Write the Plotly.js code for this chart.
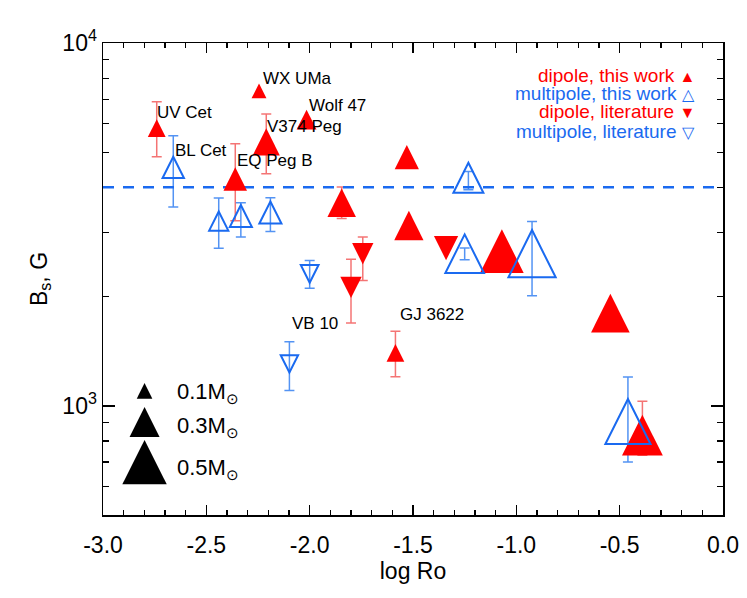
<!DOCTYPE html>
<html>
<head>
<meta charset="utf-8">
<script src="https://cdn.plot.ly/plotly-3.0.1.min.js"></script>
<style>
  html, body { margin: 0; padding: 0; background: #fff; }
  #chart { width: 747px; height: 598px; }
</style>
</head>
<body>
<div id="chart"></div>
<script>
// dipole, this work (filled red, pointing up)
const dipWorkRo = [-2.74, -2.245, -2.015, -2.21, -2.36, -1.53, -1.845, -1.52, -1.07, -1.585, -0.545, -0.39];
const dipWorkB = [5830, 7380, 6150, 5340, 4220, 4850, 3630, 3140, 2670, 1400, 1800, 830];
const dipWorkErrUp = [1055, null, null, 1035, 1055, null, 380, null, null, 205, null, 200];
const dipWorkErrDn = [975, null, null, 980, 985, null, 345, null, null, 197, null, 100];
const dipWorkMass = [0.13, 0.09, 0.16, 0.26, 0.21, 0.22, 0.28, 0.29, 0.49, 0.13, 0.42, 0.45];

// multipole, this work (open blue, pointing up)
const mulWorkRo = [-2.66, -2.44, -2.333, -2.19, -1.232, -1.25, -0.924, -0.46];
const mulWorkB = [4540, 3230, 3335, 3410, 4250, 2625, 2625, 905];
const mulWorkErrUp = [1008, 510, 295, 335, 172, 98, 597, 295];
const mulWorkErrDn = [1008, 510, 418, 388, 312, 100, 615, 205];
const mulWorkMass = [0.18, 0.15, 0.19, 0.19, 0.30, 0.42, 0.54, 0.51];

// dipole, literature (filled red, pointing down)
const dipLitRo = [-1.80, -1.743, -1.34];
const dipLitB = [2120, 2625, 2720];
const dipLitErrUp = [416, 292, null];
const dipLitErrDn = [428, 411, null];
const dipLitMass = [0.18, 0.18, 0.22];

// multipole, literature (open blue, pointing down)
const mulLitRo = [-2.0, -2.098];
const mulLitB = [2310, 1305];
const mulLitErrUp = [203, 197];
const mulLitErrDn = [203, 203];
const mulLitMass = [0.13, 0.125];

const refLevel = 4000;
const legendMasses = [0.1, 0.3, 0.5];
const xTicks = [-3, -2.5, -2, -1.5, -1, -0.5, 0];
const yTicks = [1000, 10000];
const yTickText = ['10<sup>3</sup>', '10<sup>4</sup>'];

const RED = '#ff0000';
const RED_ERR = 'rgba(240,70,70,0.75)';
const BLUE = '#1a6af0';
const BLUE_ERR = 'rgba(40,120,240,0.8)';
const FONT = 'Liberation Sans, Arial, Helvetica, sans-serif';

// half-size of the triangle symbol in pixels, from the stellar mass
function symbolHalf(mass) {
  return 4.2 + 36 * mass;
}

function triPath(s, up) {
  const d = up ? 1 : -1;
  return `M ${-s},${-s * d} L ${s},${-s * d} L 0,${s * d} Z`;
}

function triangleShapes(xs, ys, masses, up, filled, color) {
  return xs.map((x, i) => ({
    type: 'path',
    xref: 'x', yref: 'y',
    xsizemode: 'pixel', ysizemode: 'pixel',
    xanchor: x, yanchor: ys[i],
    path: triPath(symbolHalf(masses[i]), up),
    fillcolor: filled ? color : 'rgba(0,0,0,0)',
    line: { color: color, width: filled ? 0 : 2 },
    layer: 'above',
  }));
}

function errorTrace(xs, ys, plus, minus, color) {
  const idx = xs.map((_, i) => i).filter(i => plus[i] != null);
  return {
    type: 'scatter',
    mode: 'markers',
    x: idx.map(i => xs[i]),
    y: idx.map(i => ys[i]),
    marker: { size: 1, opacity: 0 },
    error_y: {
      type: 'data',
      symmetric: false,
      array: idx.map(i => plus[i]),
      arrayminus: idx.map(i => minus[i]),
      color: color,
      thickness: 1.5,
      width: 5,
    },
    hoverinfo: 'skip',
    showlegend: false,
  };
}

const traces = [
  errorTrace(dipWorkRo, dipWorkB, dipWorkErrUp, dipWorkErrDn, RED_ERR),
  errorTrace(dipLitRo, dipLitB, dipLitErrUp, dipLitErrDn, RED_ERR),
  errorTrace(mulWorkRo, mulWorkB, mulWorkErrUp, mulWorkErrDn, BLUE_ERR),
  errorTrace(mulLitRo, mulLitB, mulLitErrUp, mulLitErrDn, BLUE_ERR),
];

const shapes = [
  {
    type: 'line', xref: 'paper', yref: 'y',
    x0: 0, x1: 1, y0: refLevel, y1: refLevel,
    line: { color: BLUE, width: 2.5, dash: '11px,9px' },
    layer: 'above',
  },
  ...triangleShapes(dipWorkRo, dipWorkB, dipWorkMass, true, true, RED),
  ...triangleShapes(dipLitRo, dipLitB, dipLitMass, false, true, RED),
  ...triangleShapes(mulWorkRo, mulWorkB, mulWorkMass, true, false, BLUE),
  ...triangleShapes(mulLitRo, mulLitB, mulLitMass, false, false, BLUE),
];

// mass-size key, bottom left
const keyY = [0.263, 0.197, 0.112];
const keyTextY = [0.258, 0.187, 0.097];
legendMasses.forEach((m, i) => {
  shapes.push({
    type: 'path', xref: 'paper', yref: 'paper',
    xsizemode: 'pixel', ysizemode: 'pixel',
    xanchor: 0.067, yanchor: keyY[i],
    path: triPath(symbolHalf(m), true),
    fillcolor: '#000', line: { width: 0 },
  });
});

const annotations = [];
function note(text, x, y, opts) {
  annotations.push(Object.assign({
    text, x, y, xref: 'paper', yref: 'paper',
    xanchor: 'left', yanchor: 'middle', showarrow: false,
    font: { family: FONT, size: 17, color: '#000' },
  }, opts || {}));
}

// star names
note('WX UMa', 0.2555, 0.9258);
note('UV Cet', 0.0845, 0.8517);
note('Wolf 47', 0.3285, 0.8686);
note('V374 Peg', 0.2619, 0.8227);
note('BL Cet', 0.1124, 0.7718);
note('EQ Peg B', 0.2135, 0.7521);
note('VB 10', 0.3022, 0.4047);
note('GJ 3622', 0.4750, 0.4258);

// series key, top right
const keyFont = c => ({ family: FONT, size: 19, color: c });
const glyph = g => `<span style="font-size:16px">${g}</span>`;
note('dipole, this work ' + glyph('▲'), 0.958, 0.9322, { xanchor: 'right', font: keyFont(RED) });
note('multipole, this work ' + glyph('△'), 0.958, 0.8934, { xanchor: 'right', font: keyFont(BLUE) });
note('dipole, literature ' + glyph('▼'), 0.958, 0.8544, { xanchor: 'right', font: keyFont(RED) });
note('multipole, literature ' + glyph('▽'), 0.958, 0.8121, { xanchor: 'right', font: keyFont(BLUE) });

legendMasses.forEach((m, i) => {
  note(m.toFixed(1) + 'M<sub>⊙</sub>', 0.116, keyTextY[i], { font: { family: FONT, size: 22, color: '#000' } });
});

const xMinor = [];
for (let k = -30; k <= 0; k++) if (k % 5 !== 0) xMinor.push(k / 10);
const yMinor = [];
[100, 1000].forEach(dec => { for (let k = 2; k <= 9; k++) if (k * dec >= 500) yMinor.push(k * dec); });

const axisCommon = {
  showline: true, linecolor: '#000', linewidth: 1.5,
  mirror: 'ticks', ticks: 'inside', tickcolor: '#000', tickwidth: 1.5,
  showgrid: false, zeroline: false,
  tickfont: { family: FONT, size: 23, color: '#000' },
};

const layout = {
  width: 747,
  height: 598,
  margin: { l: 103, r: 24, t: 43, b: 83 },
  paper_bgcolor: '#fff',
  plot_bgcolor: '#fff',
  font: { family: FONT, color: '#000' },
  showlegend: false,
  xaxis: {
    ...axisCommon,
    range: [-3, 0],
    tickmode: 'array',
    tickvals: xTicks,
    ticktext: xTicks.map(v => v.toFixed(1)),
    ticklen: 10,
    ticklabelstandoff: 9,
    title: { text: 'log Ro', standoff: 2, font: { family: FONT, size: 23, color: '#000' } },
    minor: { tickmode: 'array', tickvals: xMinor, ticks: 'inside', ticklen: 5, tickwidth: 1.2, tickcolor: '#000', showgrid: false },
  },
  yaxis: {
    ...axisCommon,
    type: 'log',
    range: [Math.log10(500), 4],
    tickmode: 'array',
    tickvals: yTicks,
    ticktext: yTickText,
    ticklen: 12,
    title: { text: 'B<sub>s</sub>, G', font: { family: FONT, size: 23, color: '#000' } },
    minor: { tickmode: 'array', tickvals: yMinor, ticks: 'inside', ticklen: 6, tickwidth: 1.2, tickcolor: '#000', showgrid: false },
  },
  shapes,
  annotations,
};

Plotly.newPlot('chart', traces, layout, { displayModeBar: false, staticPlot: true });
</script>
</body>
</html>
